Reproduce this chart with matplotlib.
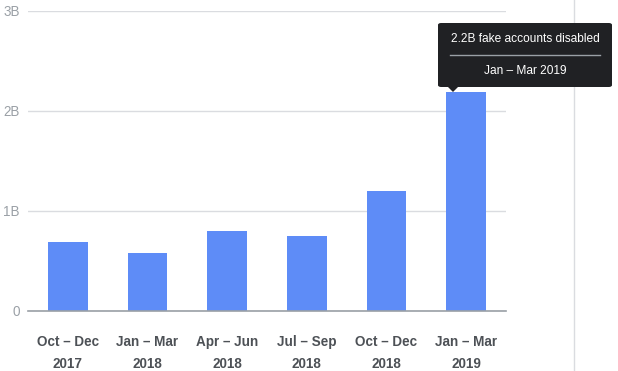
import matplotlib
matplotlib.use("Agg")
import matplotlib.pyplot as plt
from matplotlib.patches import FancyBboxPatch, Polygon
from matplotlib.lines import Line2D

plt.rcParams['font.family'] = ['Liberation Sans', 'DejaVu Sans']

# data (billions of fake accounts disabled)
quarters = ["Oct – Dec\n2017", "Jan – Mar\n2018", "Apr – Jun\n2018",
            "Jul – Sep\n2018", "Oct – Dec\n2018", "Jan – Mar\n2019"]
accounts = [0.69, 0.58, 0.80, 0.75, 1.20, 2.19]
yticks = [0, 1, 2, 3]
ytick_labels = ["0", "1B", "2B", "3B"]
tip_title = "2.2B fake accounts disabled"
tip_period = "Jan – Mar 2019"

W, H = 618, 371
fig = plt.figure(figsize=(W / 100, H / 100), dpi=100)
ax = fig.add_axes([28 / W, (H - 311) / H, 478 / W, 300 / H])

x = range(len(quarters))
ax.bar(x, accounts, width=0.5, color="#5e8cf7", zorder=3)

ax.set_xlim(-0.5, len(quarters) - 0.5)
ax.set_ylim(0, 3)
ax.set_yticks(yticks)
ax.set_yticklabels(ytick_labels, color="#9aa0a6", fontsize=9.75)
ax.set_xticks(list(x))
ax.set_xticklabels(quarters, color="#4d5156", fontsize=9.75, fontweight="semibold",
                   linespacing=1.8)
ax.tick_params(axis="y", length=0, pad=6)
ax.tick_params(axis="x", length=0, pad=17)

ax.grid(axis="y", color="#dadce0", linewidth=1, zorder=0)
for s in ["top", "right", "left"]:
    ax.spines[s].set_visible(False)
ax.spines["bottom"].set_color("#9aa0a6")
ax.spines["bottom"].set_linewidth(1.2)
ax.spines["bottom"].set_zorder(4)

# vertical divider on the right
fig.add_artist(Line2D([574 / W, 574 / W], [0, 1], color="#dadce0", linewidth=1))

# tooltip
bx0, bx1, by0, by1 = 438, 612, 23, 87
fig.add_artist(FancyBboxPatch((bx0 / W, 1 - by1 / H), (bx1 - bx0) / W, (by1 - by0) / H,
                              boxstyle="round,pad=0,rounding_size=0.005",
                              facecolor="#202124", edgecolor="none",
                              transform=fig.transFigure, zorder=10))
fig.add_artist(Polygon([[448 / W, 1 - 87 / H], [458 / W, 1 - 87 / H], [453 / W, 1 - 92 / H]],
                       closed=True, facecolor="#202124", edgecolor="none",
                       transform=fig.transFigure, zorder=10))
fig.add_artist(Line2D([450 / W, 600 / W], [1 - 55 / H, 1 - 55 / H],
                      color="#9aa0a6", linewidth=1, zorder=11))
fig.text(525 / W, 1 - 39 / H, tip_title, color="white", fontsize=8.6,
         ha="center", va="center", zorder=12)
fig.text(525 / W, 1 - 71 / H, tip_period, color="white", fontsize=8.6,
         ha="center", va="center", zorder=12)

fig.savefig("out.png", dpi=100)
